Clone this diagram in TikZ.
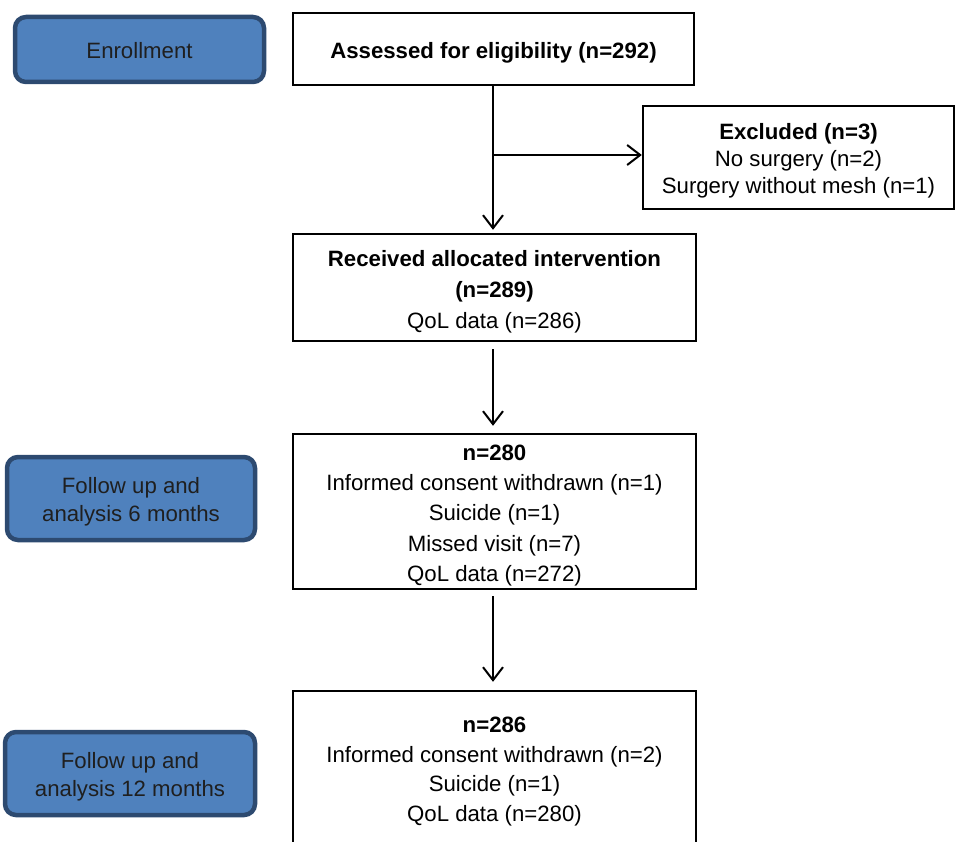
\documentclass[tikz,border=0pt]{standalone}
\usepackage{fontspec}
\setmainfont{Liberation Sans}
\usetikzlibrary{arrows.meta}
\definecolor{stageblue}{HTML}{4F81BD}
\definecolor{stageedge}{HTML}{2D4A70}
\tikzset{
  flowbox/.style={draw=black, line width=2.4pt, fill=white, inner sep=0pt},
  flowtext/.style={inner sep=0pt, align=center, font=\fontsize{22.2}{#1}\selectfont},
  flowtext/.default=31,
  stagebox/.style={draw=stageedge, fill=stageblue, line width=4.5pt, rounded corners=11pt, inner sep=0pt},
  stagetext/.style={inner sep=0pt, align=center, text=black!88, font=\fontsize{22.2}{28}\selectfont},
  flowarrow/.style={line width=2pt, -{Straight Barb[length=13pt,width=20pt,line width=2pt]}}
}
\begin{document}
\begin{tikzpicture}[x=1pt,y=-1pt]
\useasboundingbox (0,0) rectangle (957,842);
\clip (0,0) rectangle (957,842);
% stage labels
\node[stagebox, minimum width=249pt, minimum height=65pt] (enrol) at (139.5,49.5) {};
\node[stagetext] (enroltxt) at ([yshift=-1.5pt]enrol.center) {Enrollment};
\node[stagebox, minimum width=248pt, minimum height=83pt] (fu6) at (131,498.5) {};
\node[stagetext] (fu6txt) at ([yshift=-3.5pt]fu6.center) {Follow up and\\analysis 6 months};
\node[stagebox, minimum width=250pt, minimum height=83pt] (fu12) at (130,773.5) {};
\node[stagetext] (fu12txt) at ([yshift=-3.5pt]fu12.center) {Follow up and\\analysis 12 months};
% flow boxes
\node[flowbox, minimum width=401pt, minimum height=72pt] (assess) at (493.5,49) {};
\node[flowtext] (assesstxt) at ([yshift=-3.5pt]assess.center) {\textbf{Assessed for eligibility (n=292)}};
\node[flowbox, minimum width=311pt, minimum height=103pt] (excl) at (798.5,157.5) {};
\node[flowtext=27] (excltxt) at ([yshift=-3pt]excl.center) {\textbf{Excluded (n=3)}\\No surgery (n=2)\\Surgery without mesh (n=1)};
\node[flowbox, minimum width=403pt, minimum height=107pt] (recv) at (494.5,287.5) {};
\node[flowtext] (recvtxt) at ([yshift=-4pt]recv.center) {\textbf{Received allocated intervention}\\\textbf{(n=289)}\\QoL data (n=286)};
\node[flowbox, minimum width=403pt, minimum height=155pt] (six) at (494.5,511.5) {};
\node[flowtext=30.3] (sixtxt) at ([yshift=-4pt]six.center) {\textbf{n=280}\\Informed consent withdrawn (n=1)\\Suicide (n=1)\\Missed visit (n=7)\\QoL data (n=272)};
\node[flowbox, minimum width=403pt, minimum height=155pt] (twelve) at (494.5,768.5) {};
\node[flowtext=29.5] (twelvetxt) at ([yshift=-3pt]twelve.center) {\textbf{n=286}\\Informed consent withdrawn (n=2)\\Suicide (n=1)\\QoL data (n=280)};
% connectors
\draw[flowarrow, shorten >=3pt] (assess.south -| 493,0) -- (recv.north -| 493,0);
\coordinate (branch) at (493,155);
\draw[flowarrow] (branch) -- (branch -| excl.west);
\draw[flowarrow, shorten <=7pt, shorten >=7pt] (recv.south -| 493,0) -- (six.north -| 493,0);
\draw[flowarrow, shorten <=6pt, shorten >=8pt] (six.south -| 493,0) -- (twelve.north -| 493,0);
\end{tikzpicture}
\end{document}
